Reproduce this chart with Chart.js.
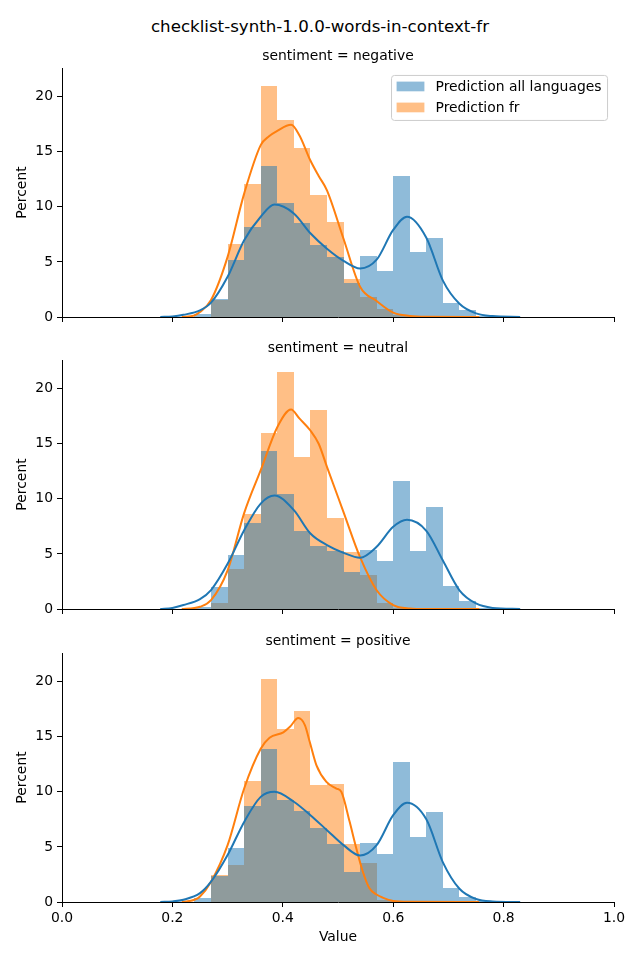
<!DOCTYPE html>
<html><head><meta charset="utf-8">
<script src="https://cdn.jsdelivr.net/npm/chart.js@4.4.1/dist/chart.umd.min.js"></script>
<style>
html,body{margin:0;padding:0;background:#fff;}
body{width:640px;height:960px;position:relative;overflow:hidden;font-family:"DejaVu Sans";}
#title{position:absolute;left:0;width:640px;top:16px;text-align:center;font-size:16.67px;line-height:22px;color:#000;}
canvas{position:absolute;left:0;}
</style></head><body>
<div id="title">checklist-synth-1.0.0-words-in-context-fr</div>
<canvas id="c0" width="640" height="297" style="top:28px"></canvas>
<canvas id="c1" width="640" height="297" style="top:320px"></canvas>
<canvas id="c2" width="640" height="347" style="top:613px"></canvas>
<script>
// ---- data ----
const panelTitles = ['sentiment = negative', 'sentiment = neutral', 'sentiment = positive'];
const legendLabels = ['Prediction all languages', 'Prediction fr'];
const xTickLabels = ['0.0', '0.2', '0.4', '0.6', '0.8', '1.0'];
const yTickValues = [0, 5, 10, 15, 20];
const binCenters = [0.255, 0.285, 0.315, 0.345, 0.375, 0.405, 0.435, 0.465, 0.495, 0.525, 0.555, 0.585, 0.615, 0.645, 0.675, 0.705, 0.735, 0.765];

const histAllNegative = [0.3, 1.6, 5.16, 8.18, 13.68, 10.33, 8.5, 6.55, 5.43, 3.1, 5.52, 4.17, 12.77, 5.89, 7.16, 1.24, 0.63, 0.1];
const histFrNegative  = [0, 1.55, 6.67, 12.05, 20.95, 17.9, 15.3, 11.05, 8.6, 3.44, 1.84, 0.7, 0.2, 0, 0, 0, 0, 0];
const histAllNeutral  = [0.2, 1.96, 4.89, 7.85, 14.34, 10.42, 7.07, 5.7, 5.28, 3.35, 5.34, 4.35, 11.6, 5.25, 9.24, 2.08, 0.76, 0.1];
const histFrNeutral   = [0, 0.51, 3.6, 8.6, 15.97, 21.47, 13.77, 18.1, 8.27, 5.13, 3.08, 0.57, 0.1, 0, 0, 0, 0, 0];
const histAllPositive = [0.4, 2.35, 4.92, 8.7, 13.86, 9.24, 8.27, 6.7, 5.28, 2.75, 5.31, 4.35, 12.68, 5.89, 8.15, 1.27, 0.42, 0.05];
const histFrPositive  = [0, 2.45, 3.4, 10.96, 20.2, 15.67, 17.3, 10.6, 10.7, 5.22, 3.5, 0.2, 0.1, 0, 0, 0, 0, 0];

const kdeAllX = [0.178, 0.20, 0.22, 0.25, 0.27, 0.30, 0.33, 0.36, 0.385, 0.42, 0.45, 0.48, 0.51, 0.54, 0.57, 0.60, 0.625, 0.66, 0.69, 0.72, 0.75, 0.78, 0.83];
const kdeAllNegative = [0, 0.05, 0.2, 0.6, 1.3, 3.65, 6.97, 9.1, 10.2, 9.4, 7.6, 6.2, 5.1, 4.4, 5.2, 7.9, 9.1, 7.2, 3.3, 1.2, 0.33, 0.08, 0];
const kdeAllNeutral  = [0, 0.1, 0.36, 0.9, 1.72, 4.1, 7.15, 9.57, 10.3, 8.97, 6.85, 5.8, 5.1, 4.65, 5.65, 7.46, 8.1, 7.1, 4.4, 1.7, 0.5, 0.1, 0];
const kdeAllPositive = [0, 0.05, 0.2, 0.8, 1.84, 4.26, 7.27, 9.54, 10.0, 9.1, 7.88, 6.52, 5.16, 4.22, 5.16, 7.88, 9.0, 7.5, 3.6, 1.2, 0.27, 0.05, 0];

const kdeFrNegativeX = [0.217, 0.24, 0.25, 0.27, 0.30, 0.33, 0.36, 0.375, 0.39, 0.415, 0.43, 0.45, 0.465, 0.48, 0.51, 0.54, 0.57, 0.60, 0.63, 0.66, 0.756];
const kdeFrNegative  = [0, 0.15, 0.45, 1.54, 5.46, 11.2, 15.6, 16.4, 16.9, 17.45, 16.5, 14.2, 12.8, 11.5, 7.1, 2.75, 1.45, 0.4, 0.1, 0.02, 0];
const kdeFrNeutralX  = [0.217, 0.24, 0.25, 0.27, 0.30, 0.33, 0.36, 0.39, 0.415, 0.43, 0.45, 0.465, 0.48, 0.51, 0.54, 0.57, 0.60, 0.63, 0.66, 0.756];
const kdeFrNeutral   = [0, 0.1, 0.2, 0.8, 3.5, 8.7, 12.6, 16.5, 18.1, 17.3, 16.2, 15.0, 12.9, 8.8, 4.7, 1.7, 0.36, 0.05, 0, 0];
const kdeFrPositiveX = [0.217, 0.24, 0.25, 0.27, 0.30, 0.33, 0.36, 0.376, 0.401, 0.413, 0.428, 0.44, 0.449, 0.461, 0.479, 0.497, 0.506, 0.521, 0.533, 0.545, 0.557, 0.569, 0.581, 0.60, 0.63, 0.756];
const kdeFrPositive  = [0, 0.2, 0.5, 1.84, 5.16, 10.3, 13.9, 14.9, 15.4, 15.9, 16.7, 16.06, 14.5, 12.4, 10.9, 10.3, 10.0, 7.3, 4.9, 2.75, 1.24, 0.7, 0.4, 0.1, 0.02, 0];

const panels = [
  {title: panelTitles[0], hAll: histAllNegative, hFr: histFrNegative, kAllX: kdeAllX, kAll: kdeAllNegative, kFrX: kdeFrNegativeX, kFr: kdeFrNegative},
  {title: panelTitles[1], hAll: histAllNeutral,  hFr: histFrNeutral,  kAllX: kdeAllX, kAll: kdeAllNeutral,  kFrX: kdeFrNeutralX,  kFr: kdeFrNeutral},
  {title: panelTitles[2], hAll: histAllPositive, hFr: histFrPositive, kAllX: kdeAllX, kAll: kdeAllPositive, kFrX: kdeFrPositiveX, kFr: kdeFrPositive}
];

// ---- styling ----
const FS = 13.9;
const BLUE = '#1f77b4', ORANGE = '#ff7f0e';
const BLUE_A = 'rgba(31,119,180,0.5)', ORANGE_A = 'rgba(255,127,14,0.5)';
Chart.defaults.font.family = '"DejaVu Sans"';
Chart.defaults.font.size = FS;
Chart.defaults.color = '#000';

const pts = (xs, ys) => xs.map((x, i) => ({x: x, y: ys[i]}));

const panelTitlePlugin = {
  id: 'panelTitle',
  afterDraw(chart, args, opts) {
    const a = chart.chartArea, ctx = chart.ctx;
    ctx.save();
    ctx.font = FS + 'px "DejaVu Sans"';
    ctx.fillStyle = '#000';
    ctx.textAlign = 'center';
    ctx.textBaseline = 'alphabetic';
    ctx.fillText(opts.text, (a.left + a.right) / 2, a.top - 8.3);
    ctx.restore();
  }
};

// snap histogram bar edges to whole pixels (like matplotlib) so adjacent bars have no seams
const snapBarsPlugin = {
  id: 'snapBars',
  beforeDatasetsDraw(chart) {
    chart.data.datasets.forEach((ds, i) => {
      const meta = chart.getDatasetMeta(i);
      if (meta.type !== 'bar') return;
      meta.data.forEach(el => {
        const L = Math.round(el.x - el.width / 2), R = Math.round(el.x + el.width / 2);
        el.x = (L + R) / 2;
        el.width = R - L;
        el.y = Math.round(el.y);
        el.base = Math.round(el.base);
      });
    });
  }
};

const mplLegendPlugin = {
  id: 'mplLegend',
  afterDraw(chart, args, opts) {
    if (!opts.show) return;
    const a = chart.chartArea, ctx = chart.ctx;
    ctx.save();
    ctx.font = FS + 'px "DejaVu Sans"';
    const tw = Math.max(...legendLabels.map(t => ctx.measureText(t).width));
    const w = 0.4 * FS + 2 * FS + 0.8 * FS + tw + 0.4 * FS;
    const h = 45;
    const x = a.right - 0.5 * FS - w, y = a.top + 0.5 * FS;
    ctx.beginPath();
    ctx.roundRect(x + 0.5, y + 0.5, w, h, 3);
    ctx.fillStyle = 'rgba(255,255,255,0.8)';
    ctx.fill();
    ctx.strokeStyle = '#cccccc';
    ctx.lineWidth = 1;
    ctx.stroke();
    const cols = [BLUE_A, ORANGE_A];
    legendLabels.forEach((t, i) => {
      const cy = y + 11.5 + i * 21;
      ctx.fillStyle = cols[i];
      ctx.fillRect(x + 0.4 * FS, cy - 4.85, 2 * FS, 9.7);
      ctx.fillStyle = '#000';
      ctx.textAlign = 'left';
      ctx.textBaseline = 'middle';
      ctx.fillText(t, x + 3.2 * FS, cy + 0.5);
    });
    ctx.restore();
  }
};

function makeChart(id, p, showX, showLegend) {
  return new Chart(document.getElementById(id), {
    type: 'bar',
    data: {
      datasets: [
        {type: 'line', label: 'kde all', data: pts(p.kAllX, p.kAll), borderColor: BLUE, borderWidth: 2,
         pointRadius: 0, cubicInterpolationMode: 'monotone', fill: false, order: 0},
        {type: 'line', label: 'kde fr', data: pts(p.kFrX, p.kFr), borderColor: ORANGE, borderWidth: 2,
         pointRadius: 0, cubicInterpolationMode: 'monotone', fill: false, order: 0},
        {label: legendLabels[0], data: pts(binCenters, p.hAll), backgroundColor: BLUE_A, borderWidth: 0,
         inflateAmount: 0, grouped: false, barPercentage: 1, categoryPercentage: 1, order: 1},
        {label: legendLabels[1], data: pts(binCenters, p.hFr), backgroundColor: ORANGE_A, borderWidth: 0,
         inflateAmount: 0, grouped: false, barPercentage: 1, categoryPercentage: 1, order: 2}
      ]
    },
    options: {
      responsive: false,
      animation: false,
      layout: {padding: {top: 40, left: 0, right: 26, bottom: 0}},
      plugins: {
        legend: {display: false},
        tooltip: {enabled: false},
        panelTitle: {text: p.title},
        mplLegend: {show: showLegend}
      },
      scales: {
        x: {
          type: 'linear', min: 0, max: 1, offset: false,
          ticks: {display: showX, stepSize: 0.2, padding: 3, maxRotation: 0, autoSkip: false,
                  callback: (v, i) => xTickLabels[i]},
          grid: {offset: false, drawOnChartArea: false, drawTicks: true, tickLength: 5, color: '#000'},
          border: {display: true, color: '#000', width: 1},
          title: {display: showX, text: 'Value', padding: {top: 0, bottom: 14}},
          afterFit: s => { s.height = showX ? 58 : 8; s.paddingLeft = 0; s.paddingRight = 0; }
        },
        y: {
          min: 0, max: 22.6,
          afterBuildTicks: s => { s.ticks = yTickValues.map(v => ({value: v})); },
          ticks: {padding: 4, callback: v => String(v)},
          grid: {drawOnChartArea: false, drawTicks: true, tickLength: 5, color: '#000'},
          border: {display: true, color: '#000', width: 1},
          title: {display: true, text: 'Percent', padding: {top: 14, bottom: 0}},
          afterFit: s => { s.width = 62; s.paddingTop = 0; s.paddingBottom = 0; }
        }
      }
    },
    plugins: [snapBarsPlugin, panelTitlePlugin, mplLegendPlugin]
  });
}

makeChart('c0', panels[0], false, true);
makeChart('c1', panels[1], false, false);
makeChart('c2', panels[2], true, false);
</script>
</body></html>
